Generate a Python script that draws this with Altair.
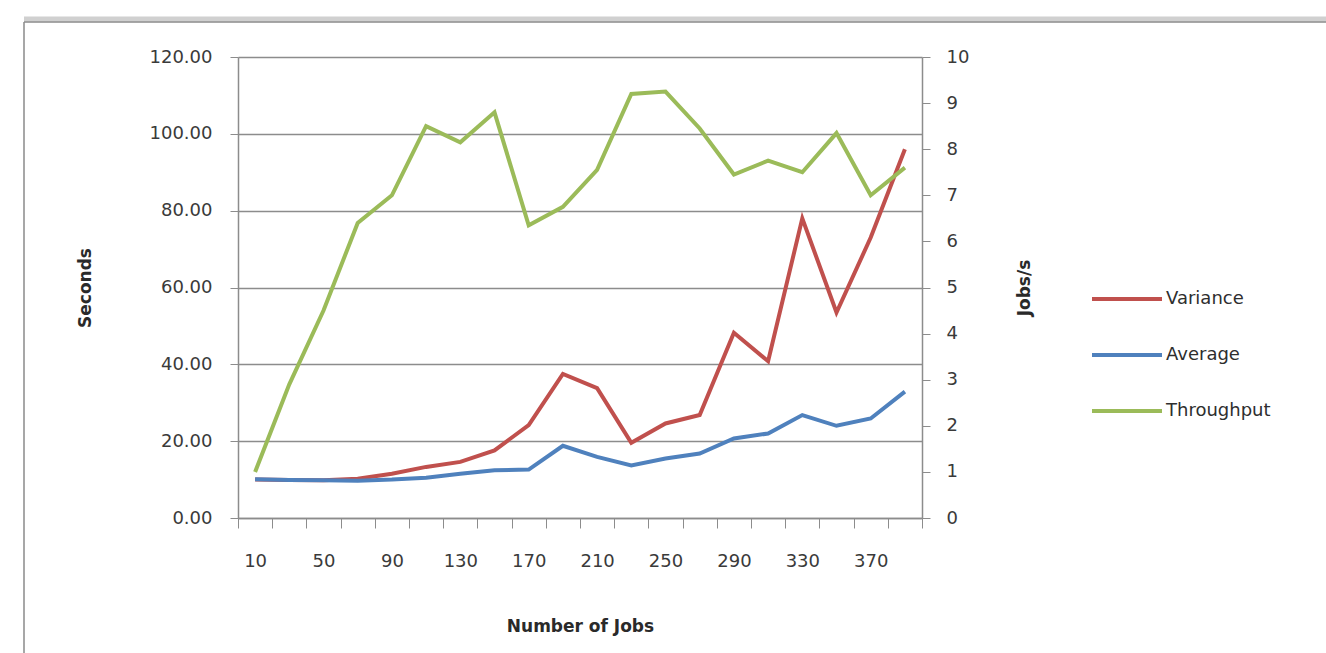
import altair as alt
import pandas as pd

# Number of jobs submitted per run
jobs = [10, 30, 50, 70, 90, 110, 130, 150, 170, 190,
        210, 230, 250, 270, 290, 310, 330, 350, 370, 390]

# Response-time statistics (seconds)
variance = [10.0, 9.9, 9.8, 10.2, 11.5, 13.3, 14.6, 17.6, 24.2, 37.5,
            33.8, 19.6, 24.6, 26.8, 48.2, 40.8, 78.0, 53.5, 73.0, 96.0]
average = [10.1, 9.9, 9.8, 9.7, 10.0, 10.5, 11.5, 12.4, 12.6, 18.8,
           15.9, 13.7, 15.5, 16.8, 20.7, 22.0, 26.8, 24.0, 25.9, 32.9]

# Throughput (jobs per second)
throughput = [1.0, 2.9, 4.5, 6.4, 7.0, 8.5, 8.15, 8.8, 6.35, 6.75,
              7.55, 9.2, 9.25, 8.45, 7.45, 7.75, 7.5, 8.35, 7.0, 7.6]

series_names = ["Variance", "Average", "Throughput"]
series_colors = ["#C0504D", "#4F81BD", "#9BBB59"]

seconds_df = pd.concat([
    pd.DataFrame({"jobs": jobs, "value": variance, "series": "Variance"}),
    pd.DataFrame({"jobs": jobs, "value": average, "series": "Average"}),
])
rate_df = pd.DataFrame({"jobs": jobs, "value": throughput, "series": "Throughput"})

FONT = "DejaVu Sans"
GRID = "#8C8C8C"
LINE_W = 4

x_enc = alt.X(
    "jobs:O",
    sort=jobs,
    scale=alt.Scale(type="band", paddingInner=0, paddingOuter=0),
    axis=alt.Axis(
        title="Number of Jobs",
        labelAngle=0,
        labelExpr="(datum.value - 10) % 40 == 0 ? datum.label : ''",
        tickBand="extent",
        tickSize=10,
        labelPadding=24,
        titlePadding=48,
        domainColor=GRID,
        tickColor=GRID,
        domainWidth=1.5,
    ),
)

color_enc = alt.Color(
    "series:N",
    scale=alt.Scale(domain=series_names, range=series_colors),
    legend=alt.Legend(
        title=None,
        orient="none",
        legendX=852,
        legendY=205,
        symbolType="stroke",
        symbolSize=4900,
        symbolStrokeWidth=LINE_W,
        labelFontSize=18,
        labelFont=FONT,
        labelColor="#2E2E2E",
        labelOffset=2,
        rowPadding=10,
    ),
)

seconds = alt.Chart(seconds_df).mark_line(strokeWidth=LINE_W).encode(
    x=x_enc,
    y=alt.Y(
        "value:Q",
        scale=alt.Scale(domain=[0, 120], nice=False),
        axis=alt.Axis(
            title="Seconds",
            values=[0, 20, 40, 60, 80, 100, 120],
            format=".2f",
            grid=True,
            gridColor=GRID,
            gridWidth=1.5,
            tickSize=8,
            labelPadding=18,
            titlePadding=55,
            domainColor=GRID,
            tickColor=GRID,
            domainWidth=1.5,
        ),
    ),
    color=color_enc,
    order=alt.Order("jobs:Q"),
)

rate = alt.Chart(rate_df).mark_line(strokeWidth=LINE_W).encode(
    x=x_enc,
    y=alt.Y(
        "value:Q",
        scale=alt.Scale(domain=[0, 10], nice=False),
        axis=alt.Axis(
            title="Jobs/s",
            orient="right",
            values=list(range(0, 11)),
            format="d",
            grid=False,
            tickSize=8,
            labelPadding=16,
            titlePadding=65,
            titleAngle=270,
            domainColor=GRID,
            tickColor=GRID,
            domainWidth=1.5,
        ),
    ),
    color=color_enc,
    order=alt.Order("jobs:Q"),
)

# Outer frame of the chart area
frame_src = pd.DataFrame({"k": [0]})
frame_shadow = alt.Chart(frame_src).mark_rule(color="#D0D0D0", strokeWidth=5).encode(
    x=alt.value(-214), x2=alt.value(1200), y=alt.value(-38)
)
frame_top = alt.Chart(frame_src).mark_rule(color="#8A8A8A", strokeWidth=1.5).encode(
    x=alt.value(-214), x2=alt.value(1200), y=alt.value(-35)
)
frame_left = alt.Chart(frame_src).mark_rule(color="#8A8A8A", strokeWidth=1.5).encode(
    x=alt.value(-214), y=alt.value(-35), y2=alt.value(700)
)

chart = (
    alt.layer(frame_shadow, frame_top, frame_left, seconds, rate)
    .resolve_scale(y="independent")
    .properties(
        width=684,
        height=461,
        autosize=alt.AutoSizeParams(type="none"),
        padding={"left": 238, "top": 57, "right": 404, "bottom": 135},
        background="white",
    )
    .configure_view(stroke=None)
    .configure_axis(
        labelFont=FONT,
        labelFontSize=18,
        labelColor="#3A3A3A",
        titleFont=FONT,
        titleFontSize=17,
        titleFontWeight="bold",
        titleColor="#2A2A2A",
    )
)

chart.save("out.html", embed_options={"renderer": "svg", "actions": False})
